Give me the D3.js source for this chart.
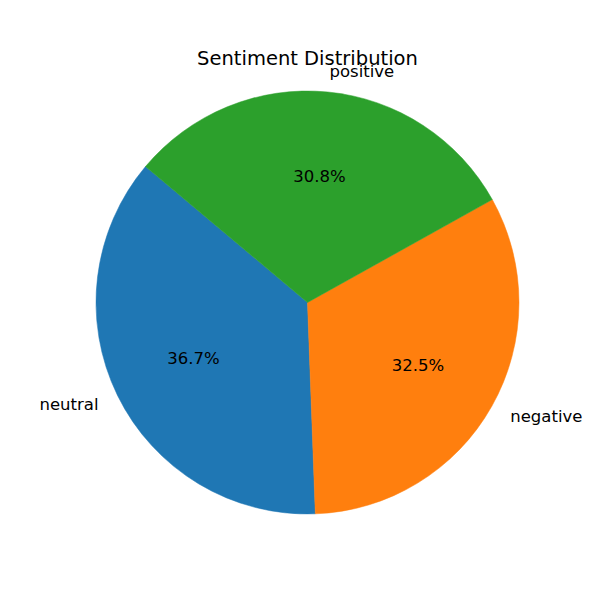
<!DOCTYPE html>
<html>
<head>
<meta charset="utf-8">
<script src="https://cdn.jsdelivr.net/npm/d3@7"></script>
<style>
  body { margin: 0; background: #fff; }
  text { font-family: "DejaVu Sans", sans-serif; fill: #000; }
</style>
</head>
<body>
<div id="chart"></div>
<script>
const labels = ["neutral", "negative", "positive"];
const shares = [36.7, 32.5, 30.8];
const colors = ["#1f77b4", "#ff7f0e", "#2ca02c"];

const width = 600, height = 600;
const cx = 307.5, cy = 302.5, radius = 211.5;

const svg = d3.select("#chart")
    .append("svg")
    .attr("width", width)
    .attr("height", height);

svg.append("text")
    .attr("x", cx)
    .attr("y", 65)
    .attr("text-anchor", "middle")
    .style("font-size", "19.5px")
    .text("Sentiment Distribution");

const g = svg.append("g")
    .attr("transform", `translate(${cx}, ${cy})`);

// matplotlib startangle=140, counterclockwise
const start = Math.PI / 2 - 140 * Math.PI / 180;
const pie = d3.pie()
    .sort(null)
    .startAngle(start)
    .endAngle(start - 2 * Math.PI);

const data = labels.map((l, i) => ({ label: l, value: shares[i], color: colors[i] }));
const arcs = pie.value(d => d.value)(data);

const arc = d3.arc().innerRadius(0).outerRadius(radius);
const labelArc = d3.arc().innerRadius(radius * 1.1).outerRadius(radius * 1.1);
const pctArc = d3.arc().innerRadius(radius * 0.6).outerRadius(radius * 0.6);

g.selectAll("path.wedge")
    .data(arcs)
    .join("path")
    .attr("class", "wedge")
    .attr("d", arc)
    .style("fill", d => d.data.color)
    .style("stroke", d => d.data.color)
    .style("stroke-width", 0.5);

g.selectAll("text.lbl")
    .data(arcs)
    .join("text")
    .attr("class", "lbl")
    .attr("x", d => labelArc.centroid(d)[0])
    .attr("y", d => labelArc.centroid(d)[1])
    .attr("dy", "0.35em")
    .attr("text-anchor", d => labelArc.centroid(d)[0] < 0 ? "end" : "start")
    .style("font-size", "16.5px")
    .text(d => d.data.label);

g.selectAll("text.pct")
    .data(arcs)
    .join("text")
    .attr("class", "pct")
    .attr("x", d => pctArc.centroid(d)[0])
    .attr("y", d => pctArc.centroid(d)[1])
    .attr("dy", "0.35em")
    .attr("text-anchor", "middle")
    .style("font-size", "16.5px")
    .text(d => d.data.value.toFixed(1) + "%");
</script>
</body>
</html>
